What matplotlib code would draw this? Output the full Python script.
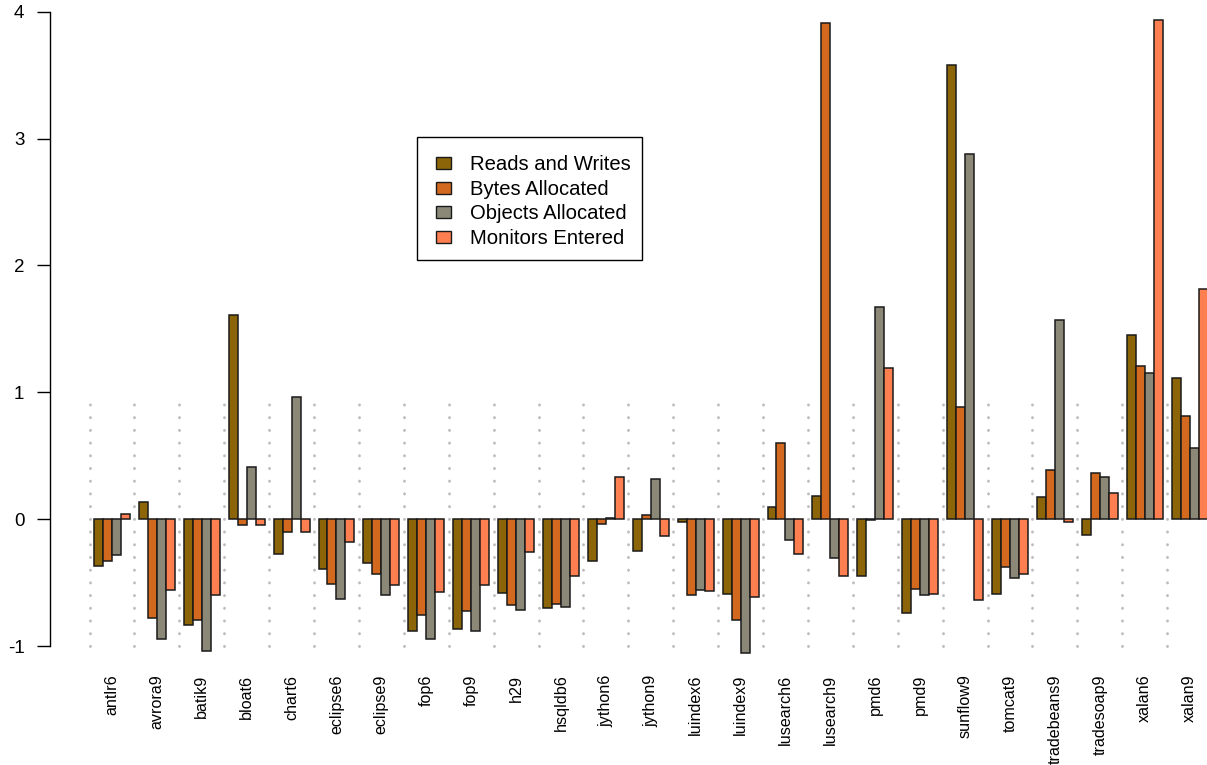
import matplotlib
matplotlib.use("Agg")
import matplotlib.pyplot as plt
from matplotlib.patches import Patch, Rectangle
import numpy as np

plt.rcParams['font.family'] = ['Liberation Sans', 'DejaVu Sans']
plt.rcParams['lines.scale_dashes'] = False

benchmarks = ["antlr6", "avrora9", "batik9", "bloat6", "chart6", "eclipse6", "eclipse9",
              "fop6", "fop9", "h29", "hsqldb6", "jython6", "jython9", "luindex6", "luindex9",
              "lusearch6", "lusearch9", "pmd6", "pmd9", "sunflow9", "tomcat9",
              "tradebeans9", "tradesoap9", "xalan6", "xalan9"]

reads_writes = [-0.367, 0.134, -0.832, 1.61, -0.274, -0.39, -0.345, -0.878, -0.862, -0.58,
                -0.70, -0.332, -0.248, -0.025, -0.59, 0.093, 0.18, -0.45, -0.736, 3.578,
                -0.587, 0.172, -0.122, 1.453, 1.114]
bytes_alloc = [-0.328, -0.774, -0.79, -0.043, -0.10, -0.51, -0.43, -0.755, -0.723, -0.677,
               -0.665, -0.035, 0.03, -0.60, -0.79, 0.604, 3.91, -0.007, -0.55, 0.888,
               -0.374, 0.392, 0.363, 1.209, 0.812]
objects_alloc = [-0.281, -0.94, -1.034, 0.415, 0.967, -0.63, -0.595, -0.94, -0.88, -0.713,
                 -0.694, 0.008, 0.32, -0.56, -1.05, -0.165, -0.303, 1.673, -0.597, 2.878,
                 -0.463, 1.571, 0.337, 1.153, 0.563]
monitors = [0.045, -0.56, -0.595, -0.043, -0.10, -0.18, -0.52, -0.573, -0.52, -0.254,
            -0.445, 0.337, -0.13, -0.563, -0.616, -0.27, -0.443, 1.19, -0.59, -0.634,
            -0.429, -0.025, 0.206, 3.933, 1.815]

series_names = ["Reads and Writes", "Bytes Allocated", "Objects Allocated", "Monitors Entered"]
series = [reads_writes, bytes_alloc, objects_alloc, monitors]
colors = ["#8B6508", "#D2691E", "#8B8878", "#FF7F50"]

W, H = 1207, 765
fig = plt.figure(figsize=(W / 100, H / 100), dpi=100)
ax_left_px, ax_right_px, ax_top_px, ax_bot_px = 50, 1207, 0, 660
ax = fig.add_axes([ax_left_px / W, (H - ax_bot_px) / H,
                   (ax_right_px - ax_left_px) / W, (ax_bot_px - ax_top_px) / H])

# R barplot geometry: bar width 1, group gap 1
n = len(benchmarks)
starts = 1 + 5 * np.arange(n)
for k, (vals, c, name) in enumerate(zip(series, colors, series_names)):
    ax.bar(starts + k + 0.5, vals, width=1.0, color=c, edgecolor="#1a1a1a",
           linewidth=1.1, label=name, zorder=3)

# dotted separators
for s in starts:
    ax.plot([s - 0.5, s - 0.5], [-1, 0.93], color="#bdbdbd", lw=2.1,
            linestyle=(0, (0.1, 9.05)), dash_capstyle="round", zorder=1)

zero_px, unit_px = 519.3, 126.9
ax.set_ylim((zero_px - ax_bot_px) / unit_px, (zero_px - ax_top_px) / unit_px)
x0_px, unit_x = 85.02, 8.98
ax.set_xlim((ax_left_px - x0_px) / unit_x, (ax_right_px - x0_px) / unit_x)

for sp in ["top", "right", "bottom"]:
    ax.spines[sp].set_visible(False)
ax.spines["left"].set_bounds(-1, 4)
ax.spines["left"].set_linewidth(1.0)
ax.set_yticks([-1, 0, 1, 2, 3, 4])
ax.set_yticklabels(["-1", "0", "1", "2", "3", "4"])
ax.tick_params(axis="y", length=9.4, width=1.0, pad=9.0, labelsize=13.5)

ax.set_xticks(starts + 2)
ax.set_xticklabels(benchmarks, rotation=90, ha="center", va="top")
ax.tick_params(axis="x", length=0, pad=10.5, labelsize=11.6)

# legend box (R style: frame drawn around the entries)
fig.add_artist(Rectangle((417 / W, 1 - 260 / H), (642 - 417) / W, (260 - 137) / H,
                         transform=fig.transFigure, facecolor="white",
                         edgecolor="black", linewidth=1.0, zorder=4))
handles = [Patch(facecolor=c, edgecolor="#1a1a1a", linewidth=1.0) for c in colors]
leg = fig.legend(handles, series_names, loc="upper left",
                 bbox_to_anchor=(436 / W, 1 - 155.5 / H), bbox_transform=fig.transFigure,
                 fontsize=14.6, frameon=False,
                 handlelength=0.75, handleheight=0.55,
                 handletextpad=0.93, labelspacing=0.27, borderpad=0.0,
                 borderaxespad=0)
leg.set_zorder(5)

fig.savefig("out.png", dpi=100)
